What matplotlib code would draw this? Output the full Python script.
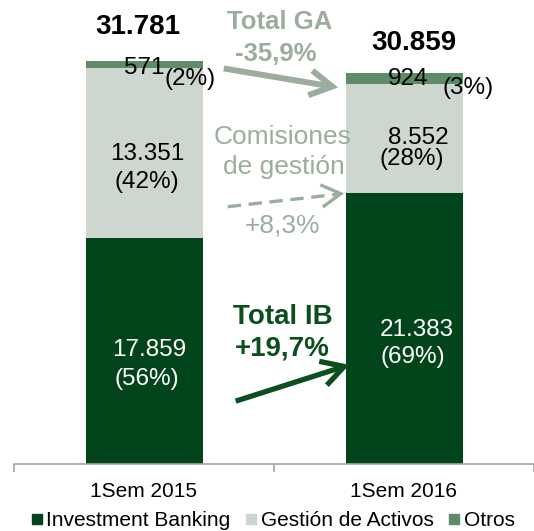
import matplotlib
matplotlib.use("Agg")
import matplotlib.pyplot as plt
from matplotlib.lines import Line2D
import numpy as np

plt.rcParams['font.family'] = ['Liberation Sans', 'DejaVu Sans']

categories = ["1Sem 2015", "1Sem 2016"]
ib = [17859, 21383]
ga = [13351, 8552]
otros = [571, 924]
totals = ["31.781", "30.859"]
ib_lbl = ["17.859", "21.383"]
ib_pct = ["(56%)", "(69%)"]
ga_lbl = ["13.351", "8.552"]
ga_pct = ["(42%)", "(28%)"]
ot_lbl = ["571", "924"]
ot_pct = ["(2%)", "(3%)"]
legend_labels = ["Investment Banking", "Gestión de Activos", "Otros"]

C_IB = "#02451A"
C_GA = "#CDD7CF"
C_OT = "#5E8C68"
C_GRAY = "#9BAE9E"
C_IBTXT = "#0B4F1E"

W, H = 534, 531
fig = plt.figure(figsize=(W / 100, H / 100), dpi=100)

def fx(x):
    return x / W

def fy(y):
    return 1 - y / H

ax_left, ax_right, ax_bot, ax_top = 14, 534, 464, 0
ax = fig.add_axes([fx(ax_left), fy(ax_bot), (ax_right - ax_left) / W, (ax_bot - ax_top) / H])
scale = 403 / 31781  # px per unit
ax.set_ylim(0, (ax_bot - ax_top) / scale)
ax.set_xlim(-0.5, -0.5 + (ax_right - ax_left) / 263)

x = np.arange(len(categories))
bw = 0.45
ib_a = np.array(ib)
ga_a = np.array(ga)
ot_a = np.array(otros)
ax.bar(x, ib_a, bw, color=C_IB, label=legend_labels[0])
ax.bar(x, ga_a, bw, bottom=ib_a, color=C_GA, label=legend_labels[1])
ax.bar(x, ot_a, bw, bottom=ib_a + ga_a, color=C_OT, label=legend_labels[2])

for s in ["top", "left", "right"]:
    ax.spines[s].set_visible(False)
ax.spines["bottom"].set_color("#A6A6A6")
ax.spines["bottom"].set_linewidth(1.2)
ax.set_yticks([])
ax.set_xticks(x)
ax.set_xticklabels(categories, fontsize=15)
ax.tick_params(axis="x", which="major", length=0, pad=13)
ax.set_xticks([-0.5, 0.5, 1.5], minor=True)
ax.tick_params(axis="x", which="minor", length=6, color="#A6A6A6", width=1.2)

fs = 17.5
def t(xp, yp, s, **kw):
    fig.text(fx(xp), fy(yp), s, ha="center", va="center", **kw)

t(138, 27, totals[0], fontsize=20, fontweight="bold", color="black")
t(414, 43, totals[1], fontsize=20, fontweight="bold", color="black")

t(144, 68, ot_lbl[0], fontsize=fs, color="black")
t(190, 79, ot_pct[0], fontsize=fs, color="black")
t(408, 79, ot_lbl[1], fontsize=fs, color="black")
t(468, 88, ot_pct[1], fontsize=fs, color="black")

t(147, 154, ga_lbl[0], fontsize=fs, color="black")
t(147, 182, ga_pct[0], fontsize=fs, color="black")
t(418, 138, ga_lbl[1], fontsize=fs, color="black")
t(412, 159, ga_pct[1], fontsize=fs, color="black")

t(149, 350, ib_lbl[0], fontsize=fs, color="white")
t(147, 379, ib_pct[0], fontsize=fs, color="white")
t(417, 330, ib_lbl[1], fontsize=fs, color="white")
t(413, 357, ib_pct[1], fontsize=fs, color="white")

# annotations
t(280, 22, "Total GA", fontsize=18.5, fontweight="bold", color=C_GRAY)
t(276, 54, "-35,9%", fontsize=18.5, fontweight="bold", color=C_GRAY)
t(283, 137, "Comisiones", fontsize=19, color=C_GRAY)
t(284, 167, "de gestión", fontsize=19, color=C_GRAY)
t(282, 226, "+8,3%", fontsize=19, color=C_GRAY)
t(283, 317, "Total IB", fontsize=20, fontweight="bold", color=C_IBTXT)
t(282, 349, "+19,7%", fontsize=20, fontweight="bold", color=C_IBTXT)

def arrow(x0, y0, x1, y1, color, ls="-", lw=4, hl=16, hw=9, style="->"):
    st = style if style == "-" else f"{style},head_length={hl},head_width={hw}"
    fig.add_artist(matplotlib.patches.FancyArrowPatch(
        (fx(x0), fy(y0)), (fx(x1), fy(y1)), transform=fig.transFigure,
        arrowstyle=st, color=color, lw=lw,
        linestyle=ls, mutation_scale=1, capstyle="butt", joinstyle="miter"))

arrow(221, 68, 341, 88, C_GRAY, lw=4.3)
# dashed shaft + solid head
arrow(225, 207, 340, 194, C_GRAY, ls=(0, (4, 2.3)), lw=2.4, style="-")
arrow(333, 194.6, 347, 193, C_GRAY, lw=2.4, hl=14, hw=8)
arrow(233, 402, 352, 364, C_IBTXT, lw=3.8)

handles = [Line2D([], [], marker="s", ls="", color=c, markersize=7.5)
           for c in [C_IB, C_GA, C_OT]]
fig.legend(handles, legend_labels, loc="center", bbox_to_anchor=(fx(271), fy(521)),
           ncol=3, frameon=False, fontsize=15, handletextpad=0.0,
           columnspacing=0.55, handlelength=0.9, borderaxespad=0, borderpad=0)

fig.savefig("out.png", dpi=100)
